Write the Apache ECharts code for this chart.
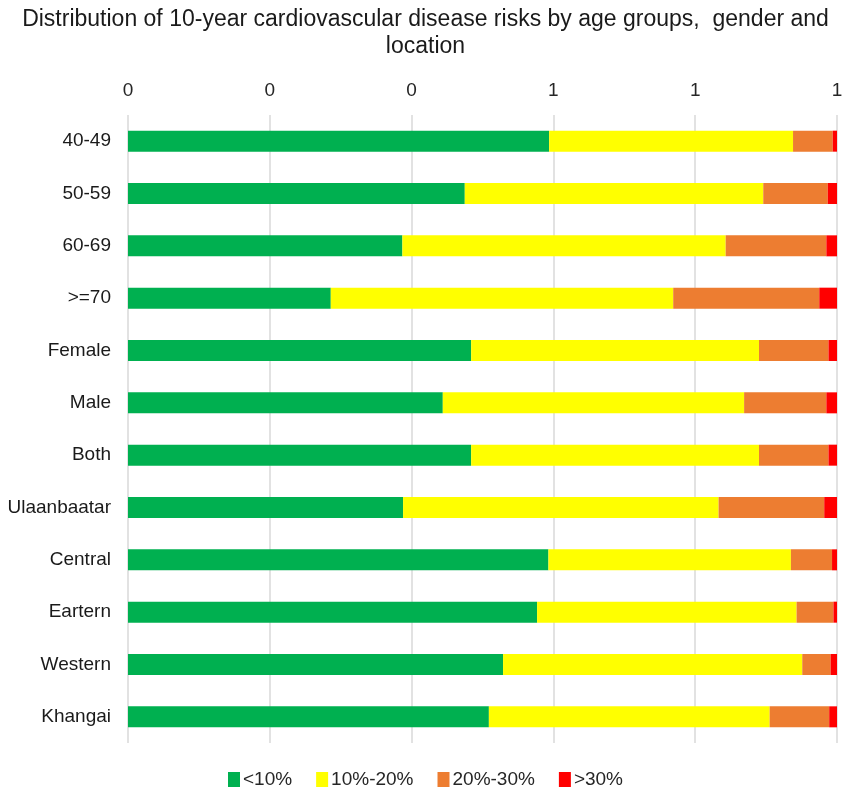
<!DOCTYPE html>
<html>
<head>
<meta charset="utf-8">
<script src="https://cdn.jsdelivr.net/npm/echarts@6/dist/echarts.min.js"></script>
<style>
  html, body { margin: 0; padding: 0; background: #fff; }
  #chart { width: 851px; height: 802px; }
</style>
</head>
<body>
<div id="chart"></div>
<script>
// 类别（从上到下）
const categories = ['40-49', '50-59', '60-69', '>=70', 'Female', 'Male', 'Both',
  'Ulaanbaatar', 'Central', 'Eartern', 'Western', 'Khangai']
const seriesNames = ['<10%', '10%-20%', '20%-30%', '>30%']
const colors = ['#00B050', '#FFFF00', '#ED7D31', '#FF0000']

// 各风险等级所占比例
const low = [0.594, 0.475, 0.387, 0.286, 0.484, 0.444, 0.484, 0.388, 0.593, 0.577, 0.529, 0.509]
const mid = [0.344, 0.421, 0.456, 0.483, 0.406, 0.425, 0.406, 0.445, 0.342, 0.366, 0.422, 0.396]
const high = [0.056, 0.091, 0.142, 0.206, 0.098, 0.116, 0.098, 0.149, 0.058, 0.052, 0.040, 0.084]
const veryHigh = [0.006, 0.013, 0.015, 0.025, 0.012, 0.015, 0.012, 0.018, 0.007, 0.005, 0.009, 0.011]

// x轴刻度 0 - 1，每 0.2 一格（标签取整显示）
const xTicks = [0, 0.2, 0.4, 0.6, 0.8, 1]

let mychart = echarts.init(document.getElementById('chart'))
let seriesData = [low, mid, high, veryHigh]
let option = {
  animation: false,
  color: colors,
  textStyle: { fontFamily: 'Liberation Sans, Arial, sans-serif' },
  title: {
    text: 'Distribution of 10-year cardiovascular disease risks by age groups,  gender and\nlocation',
    left: 'center',
    top: 1,
    textStyle: {
      fontSize: 23,
      fontWeight: 'normal',
      color: '#1a1a1a',
      lineHeight: 27
    }
  },
  legend: {
    bottom: 8,
    left: 'center',
    itemWidth: 12,
    itemHeight: 15,
    itemGap: 24,
    icon: 'rect',
    textStyle: { fontSize: 19, color: '#262626', padding: [0, 0, 0, -2] },
    data: seriesNames
  },
  grid: {
    left: 128,
    right: 14,
    top: 115,
    bottom: 59
  },
  xAxis: {
    type: 'value',
    position: 'top',
    min: xTicks[0],
    max: xTicks[xTicks.length - 1],
    interval: 0.2,
    axisLine: { show: false },
    axisTick: { show: false },
    axisLabel: {
      fontSize: 19,
      color: '#262626',
      margin: 15,
      formatter: v => Math.round(v).toString()
    },
    splitLine: { lineStyle: { color: '#d9d9d9', width: 1.5 } }
  },
  yAxis: {
    type: 'category',
    inverse: true,
    data: categories,
    axisLine: { show: false },
    axisTick: { show: false },
    axisLabel: { fontSize: 19, color: '#1a1a1a', margin: 17 }
  },
  series: seriesNames.map((name, i) => ({
    name: name,
    type: 'bar',
    stack: 'total',
    barWidth: 21,
    data: seriesData[i]
  }))
}
mychart.setOption(option)
</script>
</body>
</html>
